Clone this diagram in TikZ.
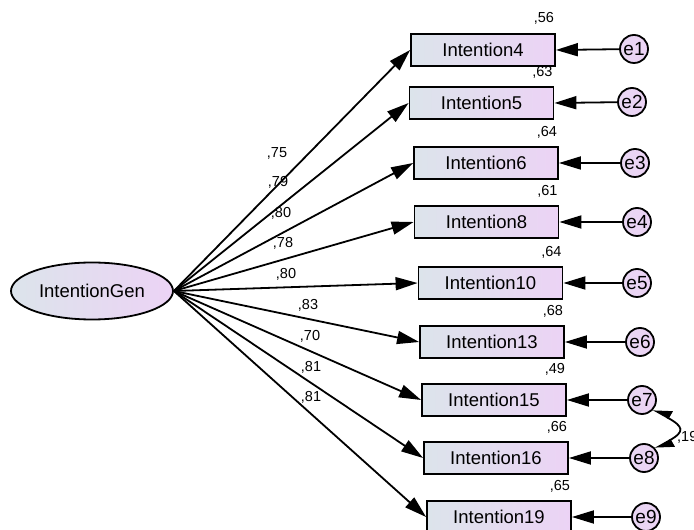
\documentclass[tikz,border=0pt]{standalone}
\usepackage{fontspec}
\setmainfont{Liberation Sans}
\usetikzlibrary{arrows.meta,shapes.geometric}
\definecolor{gl}{RGB}{220,228,235}
\definecolor{gr}{RGB}{236,211,245}
\begin{document}
\begin{tikzpicture}[x=1pt,y=1pt,
  obs/.style={draw, line width=1.8pt, rectangle, minimum width=144pt, minimum height=32pt, inner sep=0pt, left color=gl, right color=gr, font=\fontsize{18.5}{19}\selectfont},
  lat/.style={draw, line width=1.8pt, ellipse, minimum width=162pt, minimum height=57pt, inner sep=0pt, left color=gl, right color=gr, font=\fontsize{18.5}{19}\selectfont},
  err/.style={draw, line width=1.8pt, circle, minimum size=28pt, inner sep=0pt, left color=gr!80!gl, right color=gr, font=\fontsize{19}{19}\selectfont},
  arr/.style={line width=1.8pt, -{Triangle[length=22pt,width=13pt]}},
  cov/.style={line width=1.8pt, {Triangle[length=16pt,width=16pt,right]}-{Triangle[length=16pt,width=16pt,left]}},
  num/.style={font=\fontsize{14.5}{15}\selectfont, inner sep=0pt}
]
\useasboundingbox (0,0) rectangle (694,530);
\node[lat] (ig) at (92,239) {IntentionGen};

\node[obs] (i4)  at (483,480)   {Intention4};
\node[obs] (i5)  at (481.5,427) {Intention5};
\node[obs] (i6)  at (486,367)   {Intention6};
\node[obs] (i8)  at (486.5,308) {Intention8};
\node[obs] (i10) at (490.5,247) {Intention10};
\node[obs] (i13) at (492,188)   {Intention13};
\node[obs] (i15) at (494,130)   {Intention15};
\node[obs] (i16) at (496,72)    {Intention16};
\node[obs] (i19) at (499,13)    {Intention19};

\node[err] (e1) at (634,481) {e1};
\node[err] (e2) at (632,428) {e2};
\node[err] (e3) at (635,367) {e3};
\node[err] (e4) at (637,308) {e4};
\node[err] (e5) at (637,247) {e5};
\node[err] (e6) at (640,188) {e6};
\node[err] (e7) at (642,130) {e7};
\node[err] (e8) at (644,72)  {e8};
\node[err] (e9) at (646,13)  {e9};

\foreach \b in {i4,i5,i6,i8,i10,i13,i15,i16,i19}
  \draw[arr] (ig.east) -- (\b.west);
\foreach \e/\b in {e1/i4,e2/i5,e3/i6,e4/i8,e5/i10,e6/i13,e7/i15,e8/i16,e9/i19}
  \draw[arr] (\e) -- (\b.east);

\draw[cov] (e7.-40) .. controls +(30,-17) and +(30,17) .. (e8.40);
\node[num, anchor=west] (c19) at (677,93) {,19};

% squared multiple correlations
\node[num] (r4)  at ([shift={(-12,15)}]i4.north east)  {,56};
\node[num] (r5)  at ([shift={(-12,14)}]i5.north east)  {,63};
\node[num] (r6)  at ([shift={(-12,14)}]i6.north east)  {,64};
\node[num] (r8)  at ([shift={(-12,14)}]i8.north east)  {,61};
\node[num] (r10) at ([shift={(-12,14)}]i10.north east) {,64};
\node[num] (r13) at ([shift={(-12,14)}]i13.north east) {,68};
\node[num] (r15) at ([shift={(-12,14)}]i15.north east) {,49};
\node[num] (r16) at ([shift={(-12,14)}]i16.north east) {,66};
\node[num] (r19) at ([shift={(-12,14)}]i19.north east) {,65};

% loadings
\node[num] (l4)  at (277,377) {,75};
\node[num] (l5)  at (278,348) {,79};
\node[num] (l6)  at (281,317) {,80};
\node[num] (l8)  at (283,287) {,78};
\node[num] (l10) at (286,256) {,80};
\node[num] (l13) at (308,225) {,83};
\node[num] (l15) at (310,194) {,70};
\node[num] (l16) at (311,163) {,81};
\node[num] (l19) at (311,133) {,81};
\end{tikzpicture}
\end{document}
